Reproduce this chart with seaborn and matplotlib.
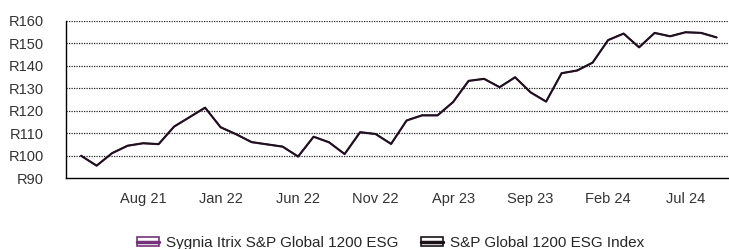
import pandas as pd
import matplotlib.pyplot as plt
import seaborn as sns
from matplotlib.patches import Patch
from matplotlib.lines import Line2D
from matplotlib.legend_handler import HandlerTuple

# Monthly index values (rebased to R100), Apr 2021 - Sep 2024
months = pd.period_range('2021-04', periods=42, freq='M')
sygnia = [100.0, 95.6, 101.1, 104.4, 105.5, 105.1, 112.9, 117.1, 121.3, 112.6,
          109.5, 106.0, 105.0, 104.0, 99.6, 108.4, 105.9, 100.7, 110.4, 109.6,
          105.2, 115.6, 117.9, 117.9, 123.8, 133.2, 134.1, 130.4, 134.8, 128.1,
          124.0, 136.6, 137.8, 141.3, 151.3, 154.2, 148.1, 154.5, 153.0, 154.8,
          154.5, 152.5]
benchmark = [100.0, 95.6, 101.2, 104.5, 105.6, 105.2, 113.0, 117.2, 121.4, 112.7,
             109.6, 106.1, 105.1, 104.1, 99.7, 108.5, 106.0, 100.8, 110.5, 109.7,
             105.3, 115.7, 118.0, 118.0, 123.9, 133.3, 134.2, 130.5, 134.9, 128.2,
             124.1, 136.7, 137.9, 141.4, 151.4, 154.3, 148.2, 154.6, 153.1, 154.9,
             154.6, 152.6]
series_names = ['Sygnia Itrix S&P Global 1200 ESG', 'S&P Global 1200 ESG Index']
y_ticks = [90, 100, 110, 120, 130, 140, 150, 160]

purple = '#74337a'
black = '#1a1218'

df = pd.DataFrame({
    'pos': list(range(len(months))) * 2,
    'value': sygnia + benchmark,
    'series': [series_names[0]] * len(months) + [series_names[1]] * len(months),
})

sns.set_style('white')
plt.rcParams['font.family'] = ['Liberation Sans', 'DejaVu Sans']

fig = plt.figure(figsize=(7.29, 2.49), dpi=100)
ax = fig.add_axes([0.090, 0.284, 0.910, 0.633])

sns.lineplot(data=df, x='pos', y='value', hue='series',
             palette={series_names[0]: purple, series_names[1]: black},
             linewidth=1.4, ax=ax, legend=False)

ax.set_xlim(-1, 41.8)
ax.set_ylim(90, 160)
ax.set_yticks(y_ticks)
ax.set_yticklabels([f'R{v}' for v in y_ticks])

# monthly ticks, label every 5th month starting Aug 21
positions = list(range(-1, len(months)))
labels = []
for p in positions:
    if p >= 0 and (p - 4) % 5 == 0:
        labels.append(months[p].strftime('%b %y'))
    else:
        labels.append('')
ax.set_xticks(positions)
ax.set_xticklabels(labels)

for v in y_ticks[1:]:
    ax.axhline(v, color='#222222', linestyle=(0, (1, 1)), linewidth=0.9, zorder=0)

for s in ['top', 'right']:
    ax.spines[s].set_visible(False)
for s in ['left', 'bottom']:
    ax.spines[s].set_color('black')
    ax.spines[s].set_linewidth(1.0)

ax.tick_params(axis='y', length=3.4, width=0.9, color='black', pad=12,
               labelsize=10.5, labelcolor='#333333')
ax.tick_params(axis='x', length=3.6, width=0.9, color='black', pad=6,
               labelsize=10.5, labelcolor='#333333')
ax.set_xlabel('')
ax.set_ylabel('')

handles = [
    (Patch(facecolor='white', edgecolor=purple, linewidth=1.2),
     Line2D([], [], color=purple, linewidth=2.5)),
    (Patch(facecolor='white', edgecolor=black, linewidth=1.2),
     Line2D([], [], color=black, linewidth=2.5)),
]
fig.legend(handles, series_names, handler_map={tuple: HandlerTuple(ndivide=1)},
           loc='center', bbox_to_anchor=(0.536, 0.025), ncol=2, frameon=False,
           fontsize=11, handlelength=1.45, handleheight=0.6, handletextpad=0.45,
           columnspacing=1.45, borderpad=0)

fig.savefig('out.png', dpi=100)
